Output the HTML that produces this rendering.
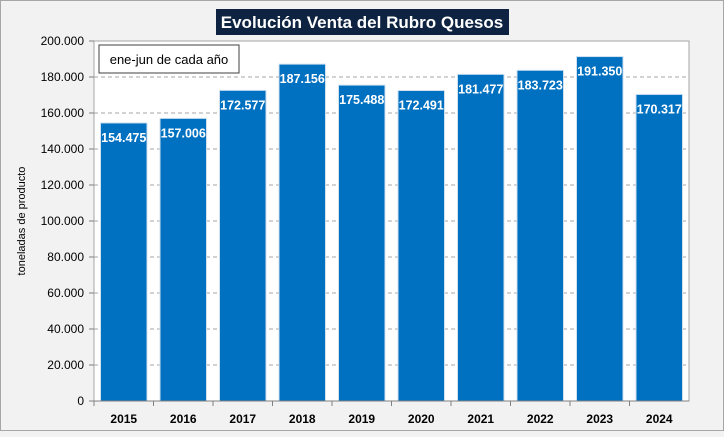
<!DOCTYPE html>
<html><head><meta charset="utf-8"><style>
body{margin:0;width:724px;height:431px;background:#f2f2f2;font-family:"Liberation Sans",sans-serif;overflow:hidden}
#wrap{position:absolute;left:0;top:0;width:722px;height:429px;border:1px solid #a6a6a6;background:#f2f2f2}
</style></head><body>
<div id="wrap">
<svg width="724" height="431">
<rect x="215" y="8" width="293" height="26" fill="#0e2341"/>
<text x="361" y="27" text-anchor="middle" font-size="17" font-weight="bold" fill="#fff">Evolución Venta del Rubro Quesos</text>
<rect x="93" y="40" width="595" height="360" fill="#fff" stroke="#a6a6a6"/>
<g id="grid"></g><g id="bars"></g><g id="axes"></g>
<rect x="98" y="44" width="140" height="28" fill="#fff" stroke="#404040"/>
<text x="168" y="63" text-anchor="middle" font-size="13" fill="#000">ene-jun de cada año</text>
<text transform="translate(24,220) rotate(-90)" text-anchor="middle" font-size="11" fill="#000">toneladas de producto</text>
</svg></div>
<script>
const categories=["2015","2016","2017","2018","2019","2020","2021","2022","2023","2024"];
const values=[154475,157006,172577,187156,175488,172491,181477,183723,191350,170317];
const valueLabels=["154.475","157.006","172.577","187.156","175.488","172.491","181.477","183.723","191.350","170.317"];
const yTicks=[0,20000,40000,60000,80000,100000,120000,140000,160000,180000,200000];
const yTickLabels=["0","20.000","40.000","60.000","80.000","100.000","120.000","140.000","160.000","180.000","200.000"];
const L=93,R=688,T=40,B=400,yMax=200000;
const y=v=>B-(v/yMax)*(B-T);
const bw=(R-L)/categories.length;
const x=i=>L+i*bw;
const NS="http://www.w3.org/2000/svg";
function mk(tag,attrs,parent){const e=document.createElementNS(NS,tag);for(const k in attrs)e.setAttribute(k,attrs[k]);document.getElementById(parent).appendChild(e);return e;}
yTicks.forEach((t,i)=>{
 if(t>0&&t<yMax){const g=mk('line',{x1:L,x2:R,y1:y(t),y2:y(t),stroke:'#a6a6a6','stroke-dasharray':'4,3'},'grid');
 
 }
 const tk=mk('line',{x1:L-5,x2:L,y1:y(t),y2:y(t),stroke:'#808080'},'axes');
 
 
 const lb=mk('text',{x:L-10,y:y(t)+4,'text-anchor':'end','font-size':12,fill:'#000'},'axes');lb.textContent=yTickLabels[i];
 
 
});
categories.forEach((c,i)=>{
 const bx=x(i)+6.5,w=bw-13;
 const r=mk('rect',{x:bx,y:y(values[i]),width:w,height:B-y(values[i]),fill:'#0070c0',stroke:'#cfe0f0','stroke-width':1},'bars');
 
 
 const t=mk('text',{x:bx+w/2,y:y(values[i])+19,'text-anchor':'middle','font-size':12.5,'font-weight':'bold',fill:'#fff'},'bars');t.textContent=valueLabels[i];
 
 
 const tk=mk('line',{x1:x(i),x2:x(i),y1:B,y2:B+5,stroke:'#808080'},'axes');
 
 
 const lb=mk('text',{x:x(i)+bw/2,y:B+22,'text-anchor':'middle','font-size':12,'font-weight':'bold',fill:'#000'},'axes');lb.textContent=c;
 
 
});
const ax=mk('line',{x1:L-5,x2:R,y1:B,y2:B,stroke:'#808080'},'axes');


</script>
</body></html>
